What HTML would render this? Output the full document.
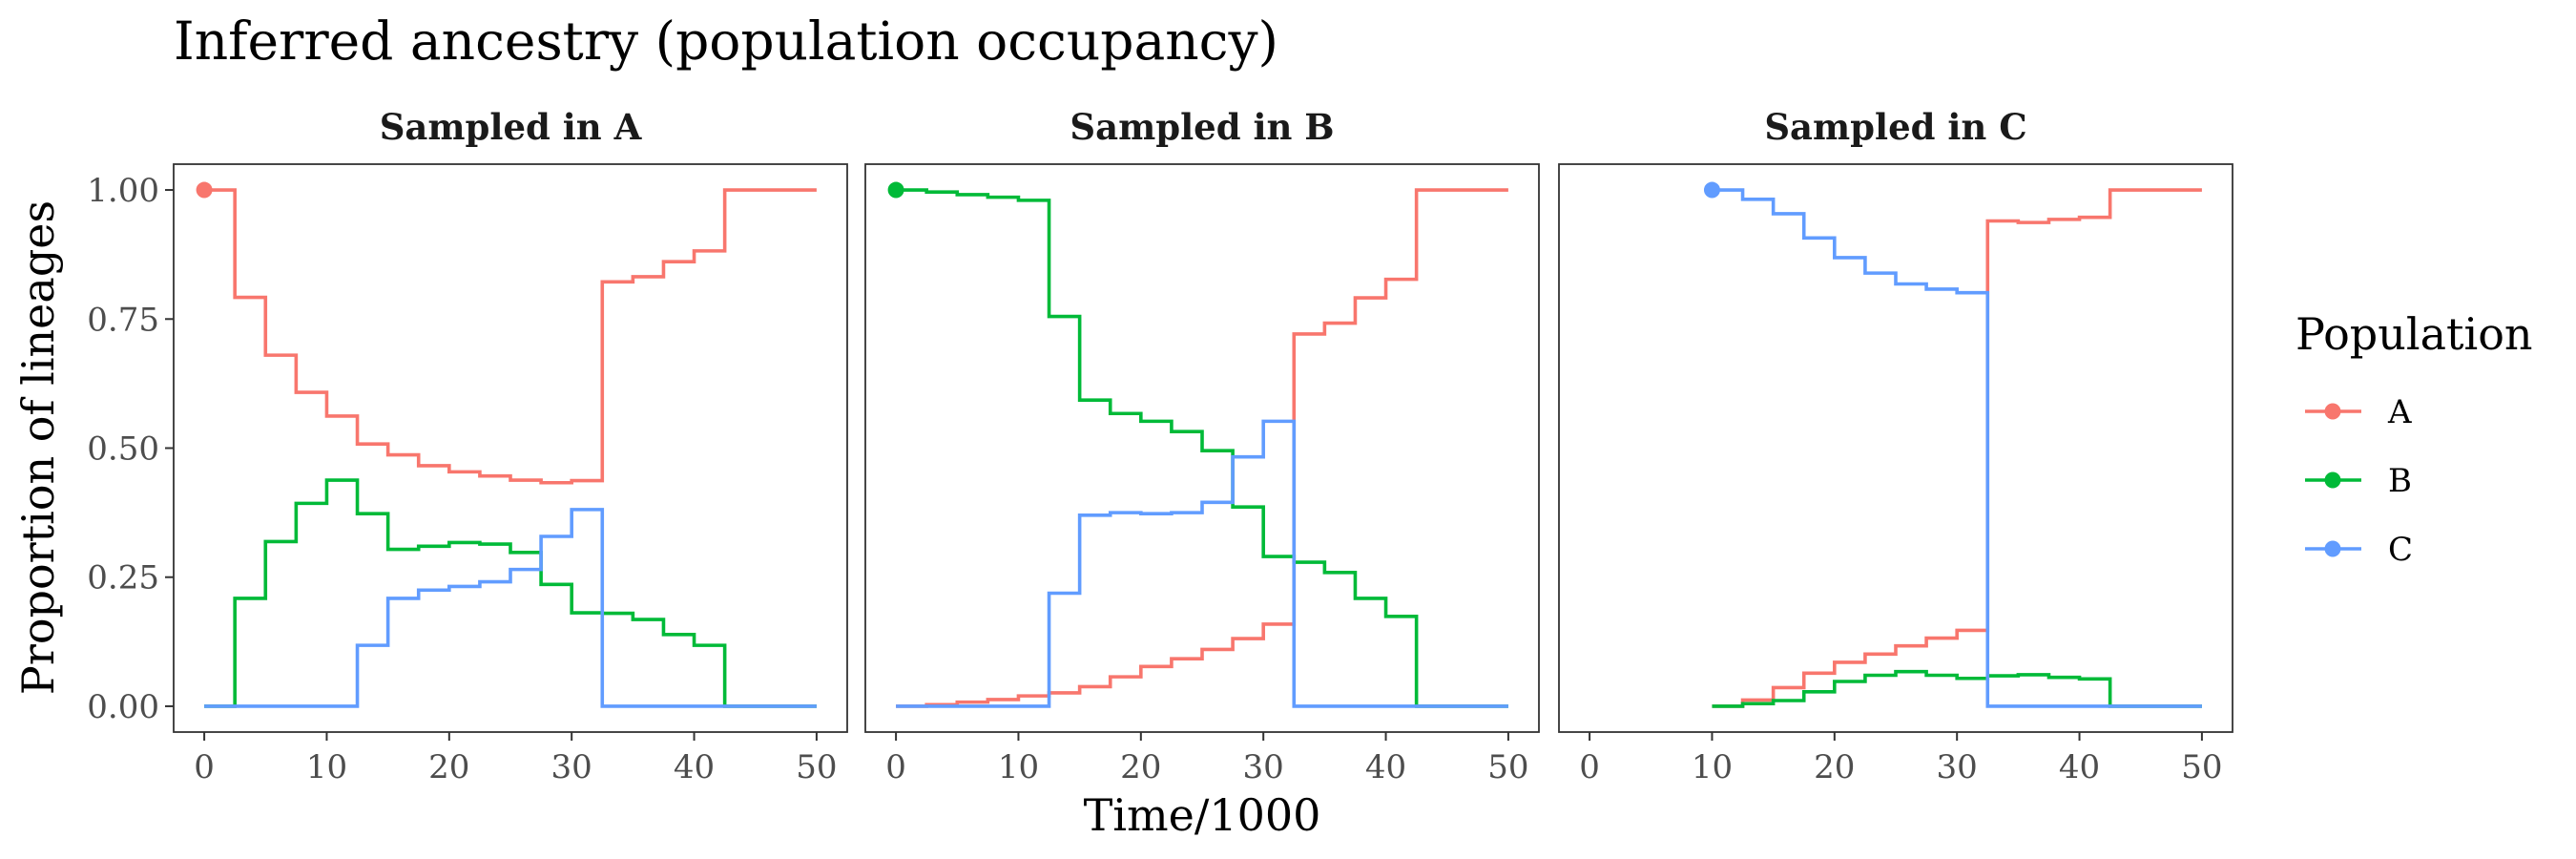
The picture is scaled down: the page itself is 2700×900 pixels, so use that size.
<!DOCTYPE html>
<html><head><meta charset="utf-8"><style>
html,body{margin:0;padding:0;background:#fff;}
svg{display:block;font-family:"DejaVu Serif","Liberation Serif",serif;}
</style></head><body>
<svg id="chart" width="2700" height="900" viewBox="0 0 2700 900" xmlns="http://www.w3.org/2000/svg">
<text x="182" y="62" font-size="55" fill="#000">Inferred ancestry (population occupancy)</text>
<text transform="translate(56,469) rotate(-90)" text-anchor="middle" font-size="46" fill="#000">Proportion of lineages</text>
<text x="1260" y="870" text-anchor="middle" font-size="46" fill="#000">Time/1000</text>
<g id="panels"></g>
<g>
<text x="2406" y="366" font-size="46" fill="#000">Population</text>
<g id="legend-keys"></g>
</g>
</svg>
<script>
const times = [0,2.5,5,7.5,10,12.5,15,17.5,20,22.5,25,27.5,30,32.5,35,37.5,40,42.5,50];
const timesC = [10,12.5,15,17.5,20,22.5,25,27.5,30,32.5,35,37.5,40,42.5,50];
const panelNames = ["A","B","C"];
const seriesNames = ["A","B","C"];
const xTicks = [0,10,20,30,40,50];
const yTicks = [0,0.25,0.5,0.75,1.0];
const yTickLabels = ["0.00","0.25","0.50","0.75","1.00"];
// Panel A (sampled in A)
const aA = [1.0,0.792,0.68,0.608,0.562,0.508,0.487,0.466,0.454,0.446,0.438,0.433,0.437,0.822,0.832,0.861,0.882,1.0,1.0];
const aB = [0,0.209,0.319,0.393,0.438,0.373,0.304,0.31,0.317,0.314,0.298,0.236,0.181,0.18,0.168,0.139,0.118,0,0];
const aC = [0,0,0,0,0,0.118,0.209,0.225,0.232,0.241,0.265,0.329,0.381,0,0,0,0,0,0];
// Panel B (sampled in B)
const bA = [0,0.003,0.008,0.013,0.02,0.026,0.038,0.057,0.077,0.092,0.11,0.131,0.159,0.721,0.742,0.791,0.827,1.0,1.0];
const bB = [1.0,0.996,0.991,0.986,0.98,0.755,0.593,0.567,0.552,0.532,0.495,0.386,0.29,0.279,0.259,0.209,0.174,0,0];
const bC = [0,0,0,0,0,0.219,0.37,0.375,0.373,0.375,0.395,0.483,0.552,0,0,0,0,0,0];
// Panel C (sampled in C)
const cA = [0,0.012,0.036,0.064,0.085,0.101,0.117,0.132,0.147,0.94,0.937,0.943,0.947,1.0,1.0];
const cB = [0,0.005,0.011,0.028,0.048,0.06,0.067,0.06,0.054,0.059,0.061,0.056,0.053,0,0];
const cC = [1.0,0.982,0.954,0.907,0.869,0.839,0.818,0.808,0.801,0,0,0,0,0,0];

const colors = {A:"#F8766D",B:"#00BA38",C:"#619CFF"};
const panelLeft = [182,907,1634];
const panelW = 706, plotTop = 172, plotBottom = 767;
const NS = "http://www.w3.org/2000/svg";
function xScale(p,t){ return panelLeft[p] + (t + 2.5) / 55 * panelW; }
function yScale(v){ return plotBottom - (v + 0.05) / 1.1 * (plotBottom - plotTop); }
function mk(tag, attrs, parent){ const e=document.createElementNS(NS,tag); for(const k in attrs) e.setAttribute(k,attrs[k]); parent.appendChild(e); return e; }

const panelData = [
  {t:times, s:{A:aA,B:aB,C:aC}, start:"A"},
  {t:times, s:{A:bA,B:bB,C:bC}, start:"B"},
  {t:timesC, s:{A:cA,B:cB,C:cC}, start:"C"}
];
const root = document.getElementById("panels");
panelData.forEach((pd,p)=>{
  const g = mk("g",{},root);
  
  
  const L = panelLeft[p];
  const st = mk("text",{x:L+panelW/2,y:146,"text-anchor":"middle","font-size":"37","font-weight":"bold",fill:"#1A1A1A"},g);
  st.textContent = "Sampled in " + panelNames[p];
  
  
  seriesNames.forEach(sn=>{
    const vals = pd.s[sn];
    let d = "";
    for(let i=0;i<pd.t.length;i++){
      const x = xScale(p,pd.t[i]), y = yScale(vals[i]);
      if(i===0) d += "M"+x+","+y;
      else d += "H"+x+"V"+y;
    }
    const path = mk("path",{d:d,fill:"none",stroke:colors[sn],"stroke-width":"3.6"},g);
    
    
  });
  const sv = pd.s[pd.start];
  const pt = mk("circle",{cx:xScale(p,pd.t[0]),cy:yScale(sv[0]),r:"8.5",fill:colors[pd.start]},g);
  
  
  const box = mk("rect",{x:L,y:plotTop,width:panelW,height:plotBottom-plotTop,fill:"none",stroke:"#333","stroke-width":"1.8"},g);
  
  
  xTicks.forEach(t=>{
    const x = xScale(p,t);
    const tk = mk("line",{x1:x,x2:x,y1:plotBottom,y2:plotBottom+9,stroke:"#333","stroke-width":"2"},g);
    
    
    const tl = mk("text",{x:x,y:plotBottom+48,"text-anchor":"middle","font-size":"34",fill:"#4D4D4D"},g);
    tl.textContent = t;
    
    
  });
  if(p===0){
    yTicks.forEach((v,i)=>{
      const y = yScale(v);
      const tk = mk("line",{x1:L-9,x2:L,y1:y,y2:y,stroke:"#333","stroke-width":"2"},g);
      
      
      const tl = mk("text",{x:L-15,y:y+12,"text-anchor":"end","font-size":"34",fill:"#4D4D4D"},g);
      tl.textContent = yTickLabels[i];
      
      
    });
  }
});
const lk = document.getElementById("legend-keys");
seriesNames.forEach((sn,i)=>{
  const y = 431 + i*72;
  const g = mk("g",{},lk);
  
  
  mk("line",{x1:2416,x2:2475,y1:y,y2:y,stroke:colors[sn],"stroke-width":"3.6"},g);
  mk("circle",{cx:2445,cy:y,r:"8.5",fill:colors[sn]},g);
  const t = mk("text",{x:2503,y:y+12,"font-size":"34",fill:"#000"},g);
  t.textContent = sn;
});
</script>
</body></html>
